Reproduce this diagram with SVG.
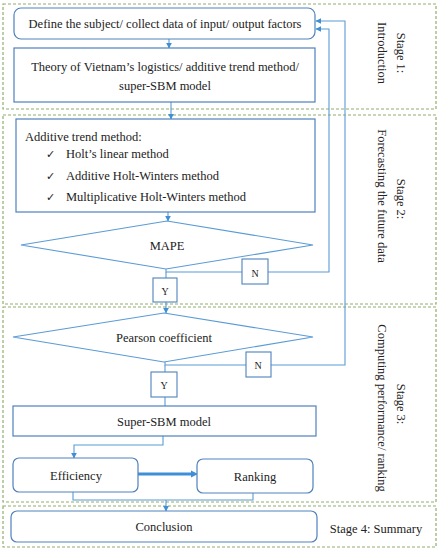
<svg xmlns="http://www.w3.org/2000/svg" width="440" height="550" viewBox="0 0 440 550">
<style>
text{font-family:"Liberation Serif","Times New Roman",serif;font-size:12.5px;fill:#222}
.stage{fill:none;stroke:#8fae6a;stroke-width:1.2;stroke-dasharray:3,2}
.box{fill:#fff;stroke:#4f81bd;stroke-width:1.2}
.dia{fill:#fff;stroke:#5b9bd5;stroke-width:1.1}
.con{fill:none;stroke:#5b9bd5;stroke-width:1.1}
.yn{fill:#fff;stroke:#4f81bd;stroke-width:1.1}
.c{text-anchor:middle}
.chk{font-family:"DejaVu Sans",sans-serif;font-size:11px}
.sm{font-size:10px}
</style>
<defs>
<marker id="ah" viewBox="0 0 10 10" refX="9" refY="5" markerWidth="6" markerHeight="6" markerUnits="userSpaceOnUse" orient="auto">
<path d="M0,0 L10,5 L0,10 z" fill="#3d8fd6"/>
</marker>
</defs>
<g id="stages">
<rect class="stage" x="3" y="4" width="433" height="105"/>
<rect class="stage" x="3" y="115" width="433" height="189"/>
<rect class="stage" x="3" y="307" width="433" height="195"/>
<rect class="stage" x="3" y="506" width="433" height="41"/>
</g>
<g id="connectors">
<path class="con" d="M169,39 V48" marker-end="url(#ah)"/>
<path class="con" d="M171,102 V119" marker-end="url(#ah)"/>
<path class="con" d="M168,212 V221" marker-end="url(#ah)"/>
<path class="con" d="M166,269 V272 H329 V29 H316" marker-end="url(#ah)"/>
<path class="con" d="M166,272 V313" marker-end="url(#ah)"/>
<path class="con" d="M165,362 V365 H345 V21 H316" marker-end="url(#ah)"/>
<path class="con" d="M165,365 V406"/>
<path class="con" d="M163,436 V445 H74 V458" marker-end="url(#ah)"/>
<path fill="none" stroke="#3d8fd6" stroke-width="3" d="M138,474 H193"/>
<path fill="#3d8fd6" d="M191,470.5 L198,474 L191,477.5 z"/>
<path class="con" d="M73,492 V500 H253 V493"/>
<path class="con" d="M166,500 V511" marker-end="url(#ah)"/>
</g>
<g id="define">
<rect class="box" x="14" y="8" width="301" height="31" rx="7"/>
<text class="c" x="165" y="28">Define the subject/ collect data of input/ output factors</text>
</g>
<g id="theory">
<rect class="box" x="14" y="48" width="301" height="54"/>
<text class="c" x="165" y="71">Theory of Vietnam’s logistics/ additive trend method/</text>
<text class="c" x="165" y="90">super-SBM model</text>
</g>
<g id="additive">
<rect class="box" x="16" y="119" width="299" height="93"/>
<text x="25" y="141">Additive trend method:</text>
<text class="chk" x="46" y="158">✓</text>
<text x="66" y="158">Holt’s linear method</text>
<text class="chk" x="46" y="180">✓</text>
<text x="66" y="180">Additive Holt-Winters method</text>
<text class="chk" x="46" y="201">✓</text>
<text x="66" y="201">Multiplicative Holt-Winters method</text>
</g>
<g id="mape">
<polygon class="dia" points="167,221 313,245 166,269 21,245"/>
<text class="c" x="167" y="250">MAPE</text>
</g>
<g id="mape-n">
<rect class="yn" x="242" y="259" width="26" height="25"/>
<text class="c sm" x="255" y="277">N</text>
</g>
<g id="mape-y">
<rect class="yn" x="153" y="278" width="24" height="24"/>
<text class="c sm" x="165" y="295">Y</text>
</g>
<g id="pearson">
<polygon class="dia" points="164,313 313,337 164,362 13,337"/>
<text class="c" x="164" y="342">Pearson coefficient</text>
</g>
<g id="pearson-n">
<rect class="yn" x="246" y="352" width="25" height="25"/>
<text class="c sm" x="258" y="369">N</text>
</g>
<g id="pearson-y">
<rect class="yn" x="151" y="372" width="26" height="25"/>
<text class="c sm" x="164" y="389">Y</text>
</g>
<g id="superSBM">
<rect class="box" x="13" y="406" width="303" height="30"/>
<text class="c" x="164" y="426">Super-SBM model</text>
</g>
<g id="efficiency">
<rect class="box" x="13" y="458" width="125" height="34" rx="6"/>
<text class="c" x="76" y="480">Efficiency</text>
</g>
<g id="ranking">
<rect class="box" x="197" y="459" width="116" height="34" rx="6"/>
<text class="c" x="255" y="481">Ranking</text>
</g>
<g id="conclusion">
<rect class="box" x="11" y="511" width="306" height="31" rx="6"/>
<text class="c" x="164" y="531">Conclusion</text>
</g>
<g id="labels">
<text class="c" transform="translate(397,53) rotate(90)">Stage 1:</text>
<text class="c" transform="translate(378,53) rotate(90)">Introduction</text>
<text class="c" transform="translate(397,199) rotate(90)">Stage 2:</text>
<text class="c" transform="translate(378,196) rotate(90)">Forecasting the future data</text>
<text class="c" transform="translate(397,404) rotate(90)">Stage 3:</text>
<text class="c" transform="translate(378,408) rotate(90)">Computing performance/ ranking</text>
<text class="c" x="376" y="533">Stage 4: Summary</text>
</g>
</svg>
